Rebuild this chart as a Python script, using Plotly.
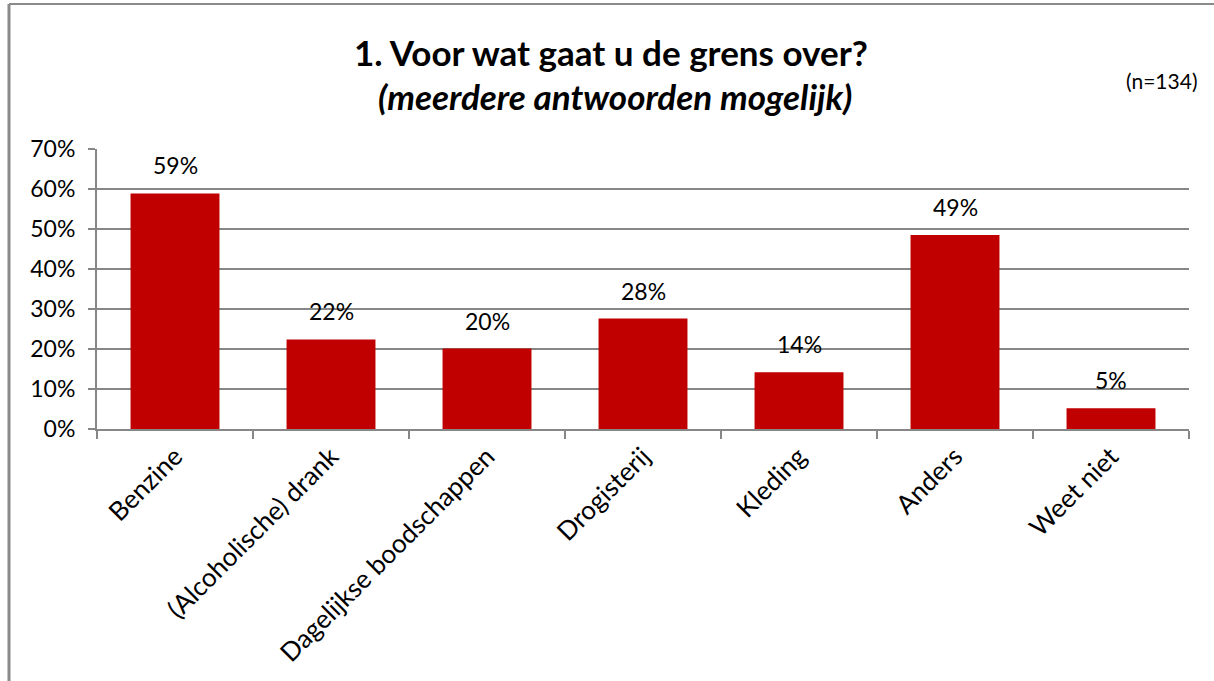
import plotly.graph_objects as go

categories = ["Benzine", "(Alcoholische) drank", "Dagelijkse boodschappen",
              "Drogisterij", "Kleding", "Anders", "Weet niet"]
values = [0.589, 0.224, 0.201, 0.276, 0.142, 0.485, 0.052]
labels = ["59%", "22%", "20%", "28%", "14%", "49%", "5%"]
yticks = [0, 0.1, 0.2, 0.3, 0.4, 0.5, 0.6, 0.7]
yticklabels = ["0%", "10%", "20%", "30%", "40%", "50%", "60%", "70%"]

FONT = "Lato"
BAR = "#C00000"
GRID = "#878787"

W, H = 1214, 681
L, R, T, B = 97, 25, 149, 252
pw, ph = W - L - R, H - T - B

def px(x):
    return (x - L) / pw

def py(y):
    return (H - B - y) / ph

fig = go.Figure()
fig.add_trace(go.Bar(
    x=categories, y=values, marker=dict(color=BAR, line=dict(width=0)),
    width=0.57, hoverinfo="skip",
))

annotations = []
for c, v, t in zip(categories, values, labels):
    annotations.append(dict(x=c, y=v, text=t, showarrow=False, xref="x", yref="y",
                            yanchor="bottom", yshift=12,
                            font=dict(family=FONT, size=23, color="#000000")))

annotations.append(dict(x=px(611), y=py(52), xref="paper", yref="paper",
                        text="<b>1. Voor wat gaat u de grens over?</b>", showarrow=False,
                        xanchor="center", yanchor="middle",
                        font=dict(family=FONT, size=35, color="#000000")))
annotations.append(dict(x=px(615), y=py(96), xref="paper", yref="paper",
                        text="<b><i>(meerdere antwoorden mogelijk)</i></b>", showarrow=False,
                        xanchor="center", yanchor="middle",
                        font=dict(family=FONT, size=35, color="#000000")))
annotations.append(dict(x=px(1199), y=py(80), xref="paper", yref="paper",
                        text="(n=134)", showarrow=False,
                        xanchor="right", yanchor="middle",
                        font=dict(family=FONT, size=21, color="#000000")))

shapes = [
    dict(type="line", xref="paper", yref="paper", x0=px(9), x1=px(9), y0=py(4), y1=py(H + 5),
         line=dict(color="#8a8a8a", width=3)),
    dict(type="line", xref="paper", yref="paper", x0=px(9), x1=px(W + 5), y0=py(4), y1=py(4),
         line=dict(color="#8a8a8a", width=2)),
]

fig.update_layout(
    width=W, height=H,
    margin=dict(l=L, r=R, t=T, b=B, autoexpand=False),
    paper_bgcolor="white", plot_bgcolor="white",
    showlegend=False, bargap=0.43,
    annotations=annotations, shapes=shapes,
    font=dict(family=FONT, color="#000000"),
    xaxis=dict(
        type="category", tickangle=-45, tickfont=dict(family=FONT, size=26),
        showline=True, linecolor=GRID, linewidth=2,
        ticks="outside", ticklen=8, tickcolor=GRID, tickwidth=2,
        tickson="boundaries", showgrid=False, range=[-0.5, 6.5],
    ),
    yaxis=dict(
        range=[0, 0.7], tickvals=yticks, ticktext=yticklabels,
        tickfont=dict(family=FONT, size=23),
        showgrid=True, gridcolor=GRID, gridwidth=1.5,
        showline=True, linecolor=GRID, linewidth=2,
        ticks="outside", ticklen=7, tickcolor=GRID, tickwidth=2,
        ticklabelstandoff=8,
        zeroline=False,
    ),
)

fig.write_html("out.html", config={"displayModeBar": False},
               post_script="document.body.style.margin='0';document.body.style.overflow='hidden';")
